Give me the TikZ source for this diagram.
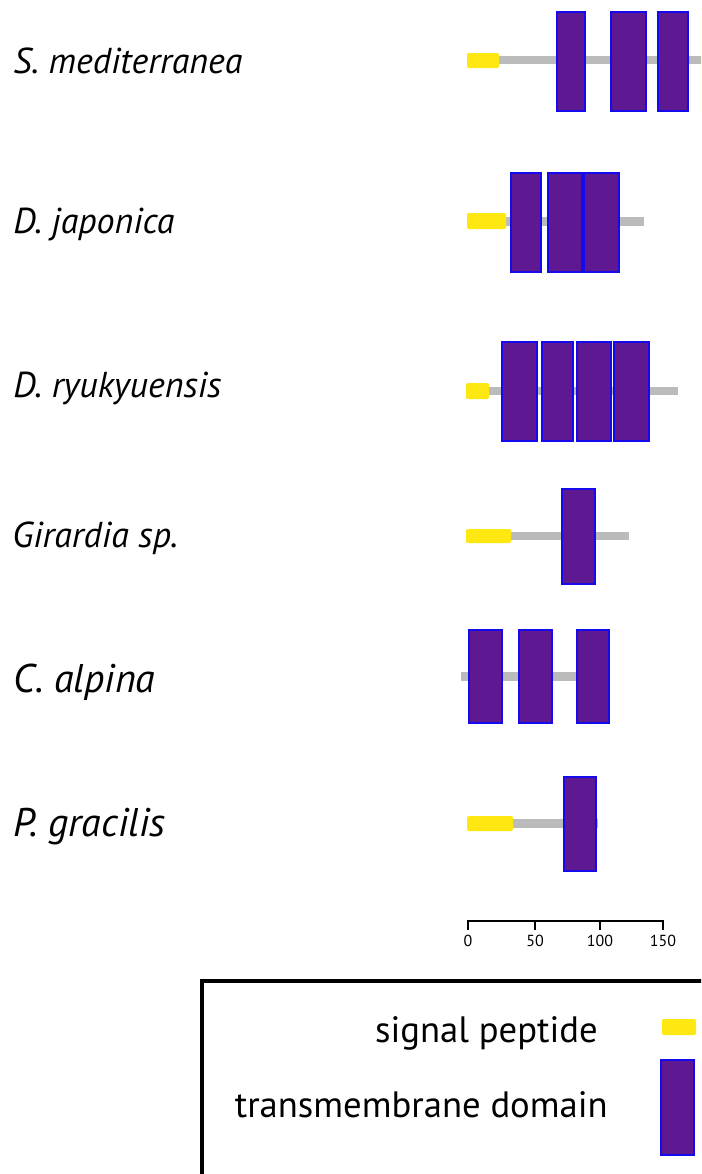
\documentclass[tikz,border=0pt]{standalone}
\usepackage{fontspec}
\setmainfont{PT Sans}
\usepackage{tikz}
\usetikzlibrary{positioning}
\definecolor{tmpurple}{RGB}{94,24,146}
\definecolor{tmedge}{RGB}{20,10,235}
\definecolor{sigyellow}{RGB}{255,232,18}
\definecolor{chaingray}{RGB}{187,187,187}

\begin{document}
\begin{tikzpicture}[
        x=0.75pt, y=-0.75pt,
        species/.style={anchor=base west, inner sep=0pt, font=\fontsize{27}{32}\selectfont\itshape},
        bigspecies/.style={species, font=\fontsize{30}{36}\selectfont\itshape},
        legendtxt/.style={anchor=base east, inner sep=0pt, font=\fontsize{27.5}{33}\selectfont},
        ticklbl/.style={anchor=north, inner sep=0pt, font=\fontsize{12}{14}\selectfont},
        chain/.style={fill=chaingray},
        sigpep/.style={fill=sigyellow, rounded corners=1pt},
        tmdom/.style={fill=tmpurple, draw=tmedge, line width=1.1pt},
        axisline/.style={line width=2.2pt, black}
    ]
        \useasboundingbox (0,0) rectangle (701,1174);
        \clip (0,0) rectangle (701,1174);

        % species names
        \node[species] (smed) at (13,73)  {S. mediterranea};
        \node[species] (djap) at (13,233) {D. japonica};
        \node[species] (dryu) at (13,397) {D. ryukyuensis};
        \node[species] (gsp)  at (12,547) {Girardia sp.};
        \node[bigspecies] (calp) at (13,692) {C. alpina};
        \node[bigspecies] (pgra) at (13,836) {P. gracilis};

        % S. mediterranea
        \fill[chain]  (499,56) rectangle (705,64);
        \fill[sigpep] (467,53) rectangle (499,68);
        \draw[tmdom]  (557,12) rectangle (585,111);
        \draw[tmdom]  (611,12) rectangle (646,111);
        \draw[tmdom]  (658,12) rectangle (688,111);

        % D. japonica
        \fill[chain]  (506,217) rectangle (644,226);
        \fill[sigpep] (467,213) rectangle (506,229);
        \draw[tmdom]  (511,173) rectangle (541,272);
        \draw[tmdom]  (548,173) rectangle (582,272);
        \draw[tmdom]  (584,173) rectangle (619,272);

        % D. ryukyuensis
        \fill[chain]  (489,387) rectangle (678,395);
        \fill[sigpep] (466,383) rectangle (489,399);
        \draw[tmdom]  (502,342) rectangle (537,441);
        \draw[tmdom]  (542,342) rectangle (573,441);
        \draw[tmdom]  (577,342) rectangle (611,441);
        \draw[tmdom]  (614,342) rectangle (649,441);

        % Girardia sp.
        \fill[chain]  (511,532) rectangle (629,540);
        \fill[sigpep] (466,529) rectangle (511,543);
        \draw[tmdom]  (562,489) rectangle (595,584);

        % C. alpina
        \fill[chain]  (461,672) rectangle (577,681);
        \draw[tmdom]  (469,630) rectangle (502,723);
        \draw[tmdom]  (519,630) rectangle (552,723);
        \draw[tmdom]  (577,630) rectangle (609,723);

        % P. gracilis
        \fill[chain]  (513,819) rectangle (598,828);
        \fill[sigpep] (467,816) rectangle (513,831);
        \draw[tmdom]  (564,777) rectangle (596,871);

        % scale bar
        \draw[axisline] (468,930) -- (468,921) -- (663,921) -- (663,930);
        \foreach \tx/\tl in {535/50, 600/100} {
            \draw[axisline] (\tx,921) -- (\tx,930);
        }
        \foreach \tx/\tl in {468/0, 535/50, 600/100, 663/150} {
            \node[ticklbl] (tick\tl) at (\tx,935) {\tl};
        }

        % legend
        \draw[line width=2.4pt] (202,981) rectangle (720,1200);
        \node[legendtxt] (lsig) at (598,1042) {signal peptide};
        \node[legendtxt] (ltm)  at (608,1117) {transmembrane domain};
        \fill[sigpep] (662,1019) rectangle (696,1035);
        \draw[tmdom]  (661,1060) rectangle (694,1155);
    \end{tikzpicture}
\end{document}
